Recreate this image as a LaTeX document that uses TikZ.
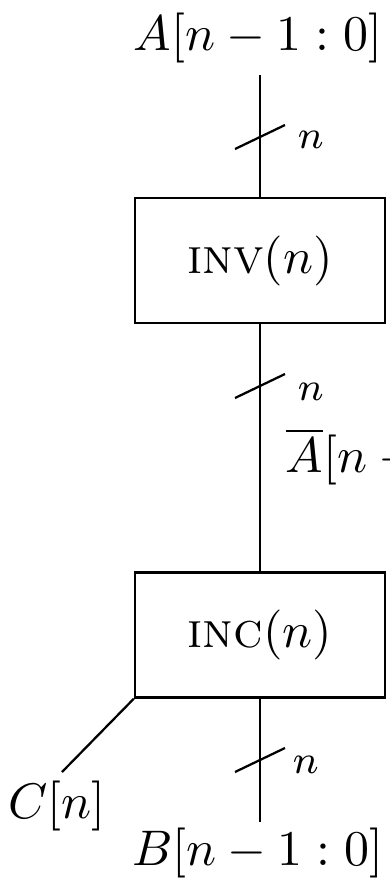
\documentclass[tikz,border=0pt]{standalone}
\usetikzlibrary{calc}
\begin{document}
\begin{tikzpicture}[x=0.2pt,y=-0.2pt,
  blockbox/.style={draw,line width=0.45pt,minimum width=50pt,minimum height=25pt,inner sep=0pt},
  wire/.style={line width=0.45pt},
  lbl/.style={inner sep=0pt,anchor=base},
  buslbl/.style={inner sep=0pt,anchor=base west,font=\footnotesize}]
\useasboundingbox (0,0) rectangle (389,884);
\node[lbl] (A) at (258,50) {$A[n-1:0]$};
\coordinate (atop) at (260,75);
\node[blockbox] (inv) at (260,260.5) {\textsc{inv}$(n)$};
\node[blockbox] (inc) at (260,635) {\textsc{inc}$(n)$};
\coordinate (bbot) at (260,822);
\node[lbl] (B) at (258,865) {$B[n-1:0]$};
\coordinate (cend) at (62,772);
\node[lbl] (C) at (57,818) {$C[n]$};
\draw[wire] (atop) -- (inv.north);
\draw[wire] (inv.south) -- (inc.north);
\draw[wire] (inc.south) -- (bbot);
\draw[wire] (inc.south west) -- (cend);
% bus slashes
\coordinate (s1) at (260,137);
\coordinate (s2) at (260,386);
\coordinate (s3) at (260,760);
\foreach \s in {s1,s2,s3}
  \draw[wire] ($(\s)+(-25,12)$) -- ($(\s)+(25,-12)$);
\node[buslbl] (n1) at (297,148) {$n$};
\node[buslbl] (n2) at (297,400) {$n$};
\node[buslbl] (n3) at (292,773) {$n$};
\node[inner sep=0pt,anchor=base west] (abar) at (285,472) {$\overline{A}[n-1:0]$};
\end{tikzpicture}
\end{document}
